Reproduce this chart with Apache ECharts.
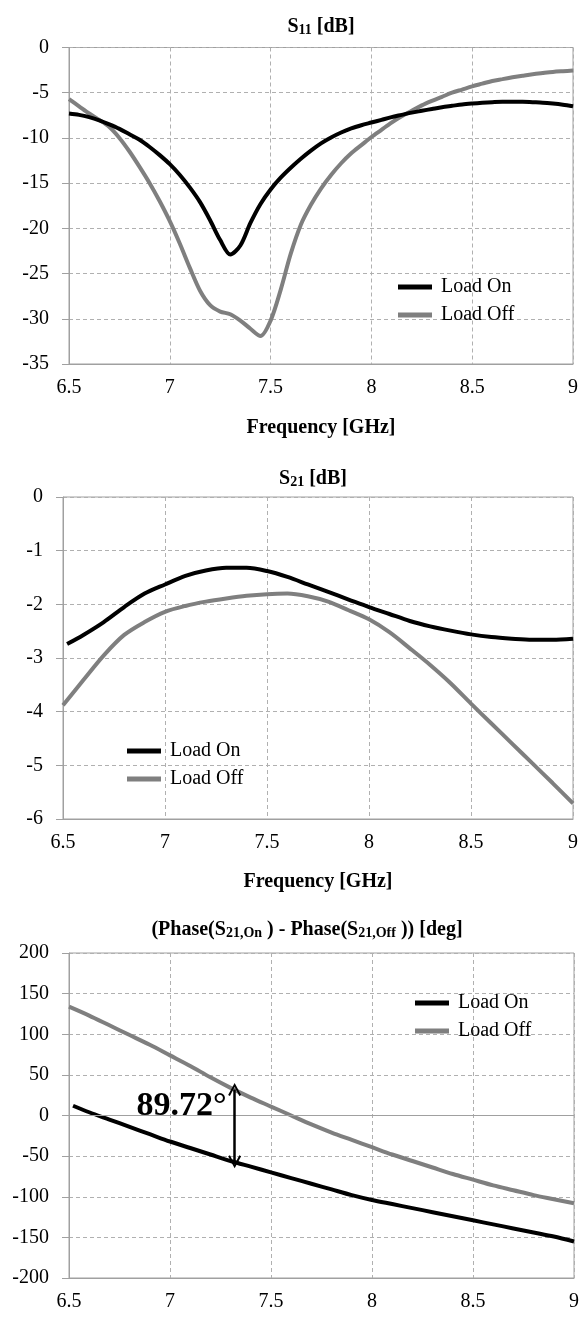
<!DOCTYPE html>
<html>
<head>
<meta charset="utf-8">
<script src="https://cdn.jsdelivr.net/npm/echarts@6/dist/echarts.min.js"></script>
<style>
html,body{margin:0;padding:0;background:#fff;}
#chart{width:584px;height:1319px;}
</style>
</head>
<body>
<div id="chart"></div>
<script>
var seriesNames = ['Load On', 'Load Off'];
var freqAxis = [6.5, 9, 0.5];

// S11 [dB], 0.05 GHz steps
var s11Freq = [6.5, 6.55, 6.6, 6.65, 6.7, 6.75, 6.8, 6.85, 6.9, 6.95, 7.0, 7.05, 7.1, 7.15, 7.2, 7.25, 7.3, 7.35, 7.4, 7.45, 7.5, 7.55, 7.6, 7.65, 7.7, 7.75, 7.8, 7.85, 7.9, 7.95, 8.0, 8.05, 8.1, 8.15, 8.2, 8.25, 8.3, 8.35, 8.4, 8.45, 8.5, 8.55, 8.6, 8.65, 8.7, 8.75, 8.8, 8.85, 8.9, 8.95, 9.0];
var s11On = [-7.3, -7.45, -7.7, -8.05, -8.5, -9.0, -9.6, -10.2, -11.0, -11.9, -12.9, -14.1, -15.5, -17.1, -19.1, -21.3, -22.9, -21.9, -19.4, -17.3, -15.7, -14.4, -13.3, -12.3, -11.4, -10.6, -9.95, -9.4, -8.95, -8.6, -8.3, -8.0, -7.7, -7.45, -7.2, -7.0, -6.8, -6.6, -6.45, -6.3, -6.2, -6.12, -6.05, -6.0, -6.0, -6.0, -6.05, -6.1, -6.2, -6.33, -6.5];
var s11Off = [-5.7, -6.5, -7.3, -8.0, -8.8, -10.0, -11.5, -13.2, -15.0, -17.0, -19.2, -21.7, -24.4, -26.9, -28.5, -29.2, -29.5, -30.2, -31.1, -31.9, -30.2, -26.8, -22.8, -19.6, -17.4, -15.6, -14.1, -12.8, -11.7, -10.8, -9.9, -9.1, -8.3, -7.6, -7.0, -6.4, -5.9, -5.45, -5.0, -4.65, -4.3, -4.0, -3.7, -3.5, -3.3, -3.12, -2.95, -2.82, -2.7, -2.62, -2.55];

// S21 [dB]
var s21OnFreq = [6.52, 6.6, 6.7, 6.8, 6.9, 7.0, 7.1, 7.2, 7.3, 7.4, 7.5, 7.6, 7.7, 7.8, 7.9, 8.0, 8.1, 8.2, 8.3, 8.4, 8.5, 8.6, 8.7, 8.8, 8.9, 9.0];
var s21On = [-2.74, -2.57, -2.33, -2.05, -1.80, -1.63, -1.47, -1.37, -1.32, -1.32, -1.38, -1.49, -1.63, -1.77, -1.91, -2.05, -2.18, -2.31, -2.41, -2.49, -2.56, -2.61, -2.64, -2.66, -2.66, -2.64];
var s21OffFreq = [6.5, 6.6, 6.7, 6.8, 6.9, 7.0, 7.1, 7.2, 7.3, 7.4, 7.5, 7.6, 7.7, 7.8, 7.9, 8.0, 8.1, 8.2, 8.3, 8.4, 8.5, 8.6, 8.7, 8.8, 8.9, 9.0];
var s21Off = [-3.88, -3.41, -2.95, -2.57, -2.33, -2.14, -2.03, -1.95, -1.89, -1.84, -1.81, -1.80, -1.85, -1.95, -2.11, -2.28, -2.52, -2.82, -3.13, -3.47, -3.85, -4.22, -4.59, -4.96, -5.33, -5.71];

// phase difference [deg]
var phOnFreq = [6.52, 6.6, 6.7, 6.8, 6.9, 7.0, 7.1, 7.2, 7.3, 7.4, 7.5, 7.6, 7.7, 7.8, 7.9, 8.0, 8.1, 8.2, 8.3, 8.4, 8.5, 8.6, 8.7, 8.8, 8.9, 9.0];
var phOn = [12, 4, -5, -14, -23, -32, -40, -48, -56, -63, -70, -77, -84, -91, -98, -104, -109, -114, -119, -124, -129, -134, -139, -144, -149, -155];
var phOffFreq = [6.5, 6.6, 6.7, 6.8, 6.9, 7.0, 7.1, 7.2, 7.3, 7.4, 7.5, 7.6, 7.7, 7.8, 7.9, 8.0, 8.1, 8.2, 8.3, 8.4, 8.5, 8.6, 8.7, 8.8, 8.9, 9.0];
var phOff = [134, 123, 111, 99, 87, 74, 61, 47, 34, 22, 11, 0, -11, -21, -30, -39, -48, -56, -64, -72, -79, -86, -92, -98, -103, -108];

// y ranges [min, max, step]
var s11Axis = [-35, 0, 5];
var s21Axis = [-6, 0, 1];
var phAxis = [-200, 200, 50];

// arrow annotation
var arrowFreq = 7.32;
var arrowEnds = [-57, 32];
var arrowText = '89.72°';
var arrowTextAt = 12;

var serif = "'Liberation Serif', 'Times New Roman', serif";
var gridCol = '#a0a0a0';
var onCol = '#000000';
var offCol = '#7f7f7f';
var chevron = 'path://M0,10 L5,0 L10,10 L8.6,10.8 L5,3.2 L1.4,10.8 Z';

function pairs(fx, vy) {
    return fx.map(function (f, i) { return [f, vy[i]]; });
}

function xAxisOf(idx, withName, gap) {
    return {
        gridIndex: idx,
        type: 'value',
        min: freqAxis[0], max: freqAxis[1], interval: freqAxis[2],
        axisLine: {show: true, onZero: false, lineStyle: {color: gridCol}},
        axisTick: {show: false},
        axisLabel: {fontSize: 20, color: '#000', fontFamily: serif, margin: 14},
        splitLine: {show: true, lineStyle: {type: [4, 3], color: '#b0b0b0'}},
        name: withName ? 'Frequency [GHz]' : '',
        nameLocation: 'middle',
        nameGap: gap,
        nameTextStyle: {fontSize: 20, fontWeight: 'bold', color: '#000', fontFamily: serif}
    };
}

function yAxisOf(idx, rng) {
    return {
        gridIndex: idx,
        type: 'value',
        min: rng[0], max: rng[1], interval: rng[2],
        axisLine: {show: true, lineStyle: {color: gridCol}},
        axisTick: {show: true, length: 7, lineStyle: {color: gridCol}},
        axisLabel: {fontSize: 20, color: '#000', fontFamily: serif, margin: 20},
        splitLine: {show: true, lineStyle: {type: [4, 3], color: '#b0b0b0'}}
    };
}

function lineOf(name, idx, data, color) {
    return {
        name: name,
        type: 'line',
        xAxisIndex: idx,
        yAxisIndex: idx,
        data: data,
        smooth: 0.3,
        showSymbol: false,
        symbol: 'none',
        lineStyle: {color: color, width: 4},
        itemStyle: {color: color},
        z: name == 'Load On' ? 4 : 3
    };
}

function legendOf(left, top) {
    return {
        data: seriesNames,
        orient: 'vertical',
        left: left,
        top: top,
        icon: 'rect',
        itemWidth: 34,
        itemHeight: 5,
        itemGap: 8,
        textStyle: {fontSize: 20, color: '#000', fontFamily: serif, padding: [0, 0, 0, 4]}
    };
}

var titleRich = {
    m: {fontSize: 20, fontWeight: 'bold', fontFamily: serif, color: '#000', lineHeight: 24, verticalAlign: 'bottom'},
    s: {fontSize: 14, fontWeight: 'bold', fontFamily: serif, color: '#000', lineHeight: 14, verticalAlign: 'bottom'}
};

var chart = echarts.init(document.getElementById('chart'));
var series = [
    lineOf(seriesNames[1], 0, pairs(s11Freq, s11Off), offCol),
    lineOf(seriesNames[0], 0, pairs(s11Freq, s11On), onCol),
    lineOf(seriesNames[1], 1, pairs(s21OffFreq, s21Off), offCol),
    lineOf(seriesNames[0], 1, pairs(s21OnFreq, s21On), onCol),
    lineOf(seriesNames[1], 2, pairs(phOffFreq, phOff), offCol),
    lineOf(seriesNames[0], 2, pairs(phOnFreq, phOn), onCol)
];

// solid zero line on the phase plot
series[4].markLine = {
    silent: true,
    symbol: 'none',
    label: {show: false},
    lineStyle: {color: gridCol, type: 'solid', width: 1},
    data: [{yAxis: 0}]
};
// double arrow and its value
series[5].markLine = {
    silent: true,
    symbol: [chevron, chevron],
    symbolSize: [13, 13],
    label: {show: false},
    lineStyle: {color: '#000', type: 'solid', width: 2.5},
    data: [[{coord: [arrowFreq, arrowEnds[0]]}, {coord: [arrowFreq, arrowEnds[1]]}]]
};
series[5].markPoint = {
    silent: true,
    symbol: 'circle',
    symbolSize: 0,
    data: [{coord: [arrowFreq, arrowTextAt]}],
    label: {show: true, position: 'left', distance: 8, formatter: arrowText,
        fontSize: 34, fontWeight: 'bold', color: '#000', fontFamily: serif}
};

var option = {
    backgroundColor: '#fff',
    animation: false,
    title: [
        {text: '{m|S}{s|11}{m| [dB]}', left: 316, top: 8, textAlign: 'center', textStyle: {rich: titleRich}},
        {text: '{m|S}{s|21}{m| [dB]}', left: 308, top: 460, textAlign: 'center', textStyle: {rich: titleRich}},
        {text: '{m|(Phase(S}{s|21,On}{m| ) - Phase(S}{s|21,Off}{m| )) [deg]}', left: 302, top: 911, textAlign: 'center', textStyle: {rich: titleRich}}
    ],
    legend: [
        legendOf(393, 272),
        legendOf(122, 736),
        legendOf(410, 988)
    ],
    grid: [
        {left: 69, top: 47.5, right: 11, height: 316.5, show: true, borderColor: gridCol, borderWidth: 1},
        {left: 63, top: 497, right: 11, height: 322, show: true, borderColor: gridCol, borderWidth: 1},
        {left: 69, top: 953, right: 10, height: 325, show: true, borderColor: gridCol, borderWidth: 1}
    ],
    xAxis: [xAxisOf(0, true, 54), xAxisOf(1, true, 53), xAxisOf(2, false, 0)],
    yAxis: [yAxisOf(0, s11Axis), yAxisOf(1, s21Axis), yAxisOf(2, phAxis)],
    series: series
};
chart.setOption(option);
</script>
</body>
</html>
